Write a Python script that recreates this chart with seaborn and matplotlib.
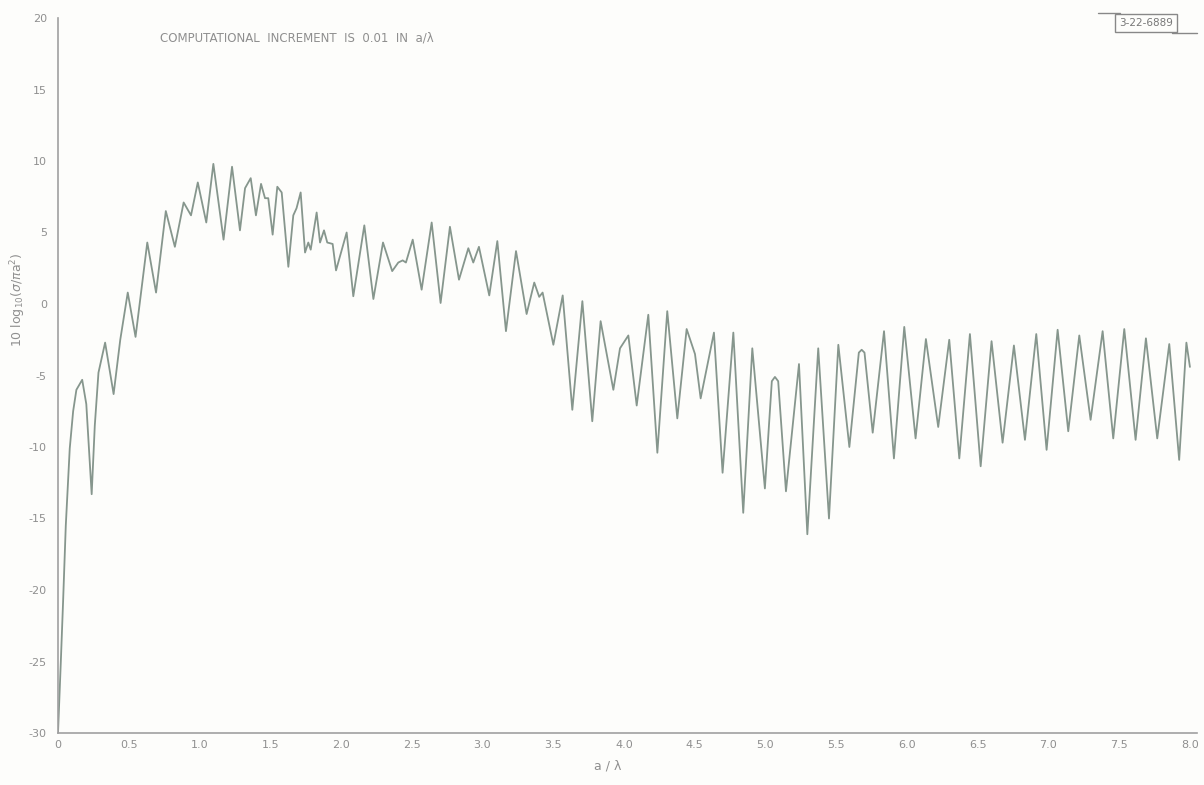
import matplotlib
matplotlib.use("Agg")
import matplotlib.pyplot as plt
import seaborn as sns
import pandas as pd
from matplotlib.lines import Line2D

# values (a/lambda, 10 log10(sigma/pi a^2))
a_over_lambda = [
    0.0, 0.02, 0.036, 0.055, 0.083, 0.107, 0.13, 0.171, 0.20, 0.238, 0.26, 0.286,
    0.333, 0.393, 0.44, 0.493, 0.548, 0.631, 0.693, 0.762, 0.826, 0.888, 0.940,
    0.988, 1.048, 1.098, 1.170, 1.230, 1.286, 1.322, 1.362, 1.399, 1.435, 1.463,
    1.486, 1.517, 1.550, 1.581, 1.628, 1.663, 1.686, 1.715, 1.746, 1.769, 1.786,
    1.828, 1.852, 1.880, 1.903, 1.941, 1.965, 2.040, 2.087, 2.165, 2.229, 2.297,
    2.362, 2.405, 2.436, 2.459, 2.507, 2.570, 2.641, 2.704, 2.770, 2.834, 2.900,
    2.935, 2.975, 3.048, 3.105, 3.166, 3.237, 3.312, 3.366, 3.401, 3.425, 3.501,
    3.567, 3.635, 3.706, 3.776, 3.835, 3.925, 3.972, 4.031, 4.090, 4.172, 4.236,
    4.306, 4.377, 4.443, 4.502, 4.542, 4.636, 4.697, 4.773, 4.843, 4.907, 4.996,
    5.045, 5.067, 5.090, 5.145, 5.237, 5.296, 5.373, 5.449, 5.515, 5.593,
    5.660, 5.680, 5.700, 5.758, 5.838,
    5.908, 5.981, 6.061, 6.134, 6.221, 6.299, 6.370, 6.445, 6.521, 6.598, 6.676,
    6.756, 6.834, 6.914, 6.987, 7.065, 7.140, 7.218, 7.298, 7.383, 7.458, 7.536,
    7.616, 7.689, 7.769, 7.854, 7.924, 7.975, 8.0,
]
rcs_db = [
    -30.0, -25.0, -20.8, -15.5, -10.1, -7.5, -6.0, -5.3, -7.0, -13.3, -8.5, -4.8,
    -2.7, -6.3, -2.5, 0.8, -2.3, 4.3, 0.8, 6.5, 4.0, 7.1, 6.2,
    8.5, 5.7, 9.8, 4.5, 9.6, 5.15, 8.1, 8.8, 6.2, 8.4, 7.4,
    7.4, 4.85, 8.2, 7.8, 2.6, 6.2, 6.7, 7.8, 3.6, 4.3, 3.8,
    6.4, 4.3, 5.15, 4.3, 4.2, 2.35, 5.0, 0.54, 5.5, 0.35, 4.3,
    2.3, 2.9, 3.05, 2.9, 4.5, 1.0, 5.7, 0.07, 5.4, 1.7, 3.9,
    2.9, 4.0, 0.6, 4.4, -1.9, 3.7, -0.7, 1.5, 0.5, 0.8, -2.85,
    0.6, -7.4, 0.2, -8.2, -1.2, -6.0, -3.1, -2.2, -7.1, -0.75, -10.4,
    -0.5, -8.0, -1.75, -3.5, -6.6, -2.0, -11.8, -2.0, -14.6, -3.1, -12.9,
    -5.4, -5.1, -5.4, -13.1, -4.2, -16.1, -3.1, -15.0, -2.85, -10.0,
    -3.4, -3.2, -3.4, -9.0, -1.9,
    -10.8, -1.6, -9.4, -2.45, -8.6, -2.5, -10.8, -2.1, -11.35, -2.6, -9.7,
    -2.9, -9.5, -2.1, -10.2, -1.8, -8.9, -2.2, -8.1, -1.9, -9.4, -1.75,
    -9.5, -2.4, -9.4, -2.8, -10.9, -2.7, -4.4,
]
x_ticks = [0, 0.5, 1.0, 1.5, 2.0, 2.5, 3.0, 3.5, 4.0, 4.5, 5.0, 5.5, 6.0, 6.5, 7.0, 7.5, 8.0]
x_tick_labels = ["0", "0.5", "1.0", "1.5", "2.0", "2.5", "3.0", "3.5", "4.0",
                 "4.5", "5.0", "5.5", "6.0", "6.5", "7.0", "7.5", "8.0"]
y_ticks = [-30, -25, -20, -15, -10, -5, 0, 5, 10, 15, 20]
y_tick_labels = ["-30", "-25", "-20", "-15", "-10", "-5", "0", "5", "10", "15", "20"]

sns.set_style("white")
plt.rcParams["font.family"] = ["DejaVu Sans"]

ink = "#8f8f8f"
line_col = "#86968d"

fig = plt.figure(figsize=(12.04, 7.85), dpi=100)
fig.patch.set_facecolor("#fdfdfb")
W, H = 1204, 785
ax = fig.add_axes([58 / W, 1 - 733 / H, (1197 - 58) / W, (733 - 18) / H])
ax.set_facecolor("none")

df = pd.DataFrame({"x": a_over_lambda, "y": rcs_db})
sns.lineplot(data=df, x="x", y="y", ax=ax, sort=False, estimator=None,
             color=line_col, linewidth=1.3)

ax.set_xlim(0, 8.05)
ax.set_ylim(-30, 20)
ax.set_xticks(x_ticks)
ax.set_xticklabels(x_tick_labels)
ax.set_yticks(y_ticks)
ax.set_yticklabels(y_tick_labels)
ax.set_xlabel("")
ax.set_ylabel("")
for s in ["top", "right"]:
    ax.spines[s].set_visible(False)
for s in ["left", "bottom"]:
    ax.spines[s].set_color("#a0a0a0")
    ax.spines[s].set_linewidth(1.2)
ax.tick_params(axis="x", direction="in", length=10, width=1, color="#a0a0a0",
               labelsize=8, labelcolor=ink, pad=5)
ax.tick_params(axis="y", direction="inout", length=12, width=1, color="#a0a0a0",
               labelsize=8, labelcolor=ink, pad=2)

fig.text(160 / W, 1 - 38 / H, "COMPUTATIONAL  INCREMENT  IS  0.01  IN  a/λ",
         fontsize=8.5, color=ink, va="center", ha="left")
fig.text(608 / W, 1 - 766 / H, "a / λ", fontsize=9, color=ink, ha="center", va="center")
fig.text(18 / W, 1 - 300 / H, r"10 log$_{10}$($\sigma$/$\pi$a$^2$)", fontsize=9,
         color=ink, rotation=90, ha="center", va="center")

fig.text(1146 / W, 1 - 23 / H, "3-22-6889", fontsize=7.5, color="#777777",
         ha="center", va="center",
         bbox=dict(boxstyle="square,pad=0.35", fc="none", ec="#888888", lw=1))
fig.add_artist(Line2D([1098 / W, 1120 / W], [1 - 13 / H, 1 - 13 / H],
                      color="#888888", lw=1))
fig.add_artist(Line2D([1172 / W, 1197 / W], [1 - 33 / H, 1 - 33 / H],
                      color="#888888", lw=1))

fig.savefig("out.png", dpi=100, facecolor=fig.get_facecolor())
